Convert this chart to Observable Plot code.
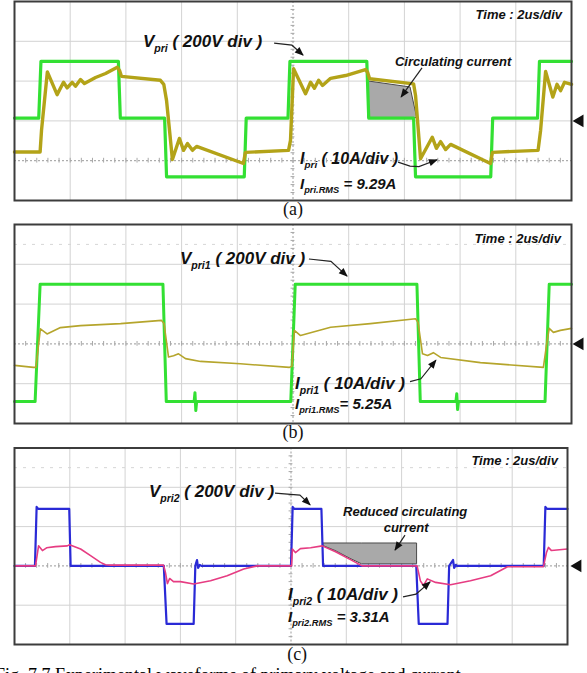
<!DOCTYPE html>
<html><head><meta charset="utf-8">
<script src="https://cdn.jsdelivr.net/npm/d3@7"></script>
<script src="https://cdn.jsdelivr.net/npm/@observablehq/plot@0.6"></script>
<style>
body{margin:0;background:#fff;width:587px;height:673px;overflow:hidden;position:relative;}
#root{position:absolute;left:0;top:0;width:587px;height:673px;}
#root svg{position:absolute;left:0;}
#caption{position:absolute;left:-5px;top:665px;font-family:"Liberation Serif","Times New Roman",serif;font-size:18px;line-height:20px;white-space:nowrap;color:#000;}
</style></head><body>
<div id="root"></div>
<div id="caption">Fig. 7.7 Experimental waveforms of primary voltage and current</div>
<script>
// ---------- Panel (a): Vpri [V] and Ipri [A] vs time [us] ----------
const vaT = [0, 0.87, 0.95, 3.73, 3.80, 5.39, 5.46, 8.25, 8.32, 9.82, 9.89, 12.65, 12.72, 14.33, 14.40, 17.10, 17.17, 18.78, 18.85, 20];
const vaV = [0, 0, 285, 285, 0, 0, -295, -295, 0, 0, 285, 285, 0, 0, -295, -295, 0, 0, 285, 285];
const iaT = [0, 0.92, 0.97, 1.18, 1.53, 1.76, 1.89, 2.07, 2.19, 2.37, 2.51, 2.91, 3.27, 3.69, 3.77, 3.84, 5.24, 5.36, 5.46, 5.67, 5.92, 6.07, 6.21, 6.39, 6.54, 8.22, 8.29, 9.84, 9.91, 10.02, 10.45, 10.63, 10.77, 10.92, 11.06, 11.35, 11.89, 12.6, 12.68, 12.75, 14.33, 14.40, 14.58, 15.0, 15.15, 15.3, 15.48, 15.66, 17.09, 17.16, 18.8, 18.89, 19.07, 19.33, 19.48, 19.61, 19.75, 20];
const iaI = [-8.5, -8.5, -3.1, 11.6, 5.9, 9.0, 7.6, 9.0, 8.0, 9.7, 8.7, 10.2, 11.2, 12.8, 12.0, 10.5, 9.5, 8.5, 4.4, -10.4, -5.1, -8.1, -6.4, -8.1, -7.1, -11.4, -8.6, -8.1, -5.6, 12.4, 6.1, 9.0, 7.5, 9.5, 8.2, 10.0, 10.7, 12.2, 11.5, 9.9, 8.6, 5.7, -10.2, -4.8, -7.6, -5.9, -7.9, -6.6, -11.4, -8.6, -8.1, -3.1, 11.7, 5.3, 8.5, 6.9, 9.0, 8.5];
const circAT  = [12.72, 14.22, 14.46];
const circALo = [0, 0, 0];
const circAHi = [9.2, 7.7, 0];

// ---------- Panel (b): Vpri1 [V] and Ipri1 [A] ----------
const vbT = [0, 0.74, 0.92, 5.33, 5.45, 6.45, 6.48, 6.51, 6.54, 9.92, 10.08, 14.45, 14.57, 15.85, 15.88, 15.91, 15.94, 19.05, 19.2, 20];
const vbV = [-290, -290, 300, 300, -290, -290, -245, -335, -290, -290, 300, 300, -290, -290, -250, -330, -290, -290, 300, 300];
const ibT = [0, 0.68, 0.77, 0.93, 1.17, 1.65, 2.37, 3.81, 5.28, 5.37, 5.53, 5.71, 5.89, 6.14, 6.68, 8.11, 9.87, 9.96, 10.05, 10.27, 11.35, 12.78, 14.40, 14.49, 14.65, 14.83, 15.04, 15.3, 16.73, 18.99, 19.1, 19.2, 19.35, 19.6, 20];
const ibI = [-5.4, -5.9, -5.9, 3.8, 2.5, 4.1, 4.6, 5.1, 5.9, 5.1, -3.3, -3.0, -2.5, -3.7, -4.4, -5.0, -5.9, -5.6, 3.4, 2.1, 4.2, 5.1, 6.3, 5.4, -2.5, -2.9, -2.2, -3.4, -4.7, -5.9, -0.4, 3.9, 2.9, 3.4, 3.9];

// ---------- Panel (c): Vpri2 [V] and Ipri2 [A] ----------
const vcT = [0, 0.74, 0.80, 0.86, 1.98, 2.03, 5.40, 5.50, 6.48, 6.54, 6.60, 6.64, 6.70, 6.76, 10.0, 10.06, 10.12, 11.10, 11.16, 14.53, 14.62, 15.66, 15.72, 15.86, 15.90, 15.96, 16.0, 19.14, 19.20, 19.26, 20];
const vcV = [0, 0, 300, 290, 290, 0, 0, -295, -295, 0, 30, -10, 5, 0, 0, 300, 290, 290, 0, 0, -295, -295, 0, 30, -10, 5, 0, 0, 300, 290, 290];
const icT = [0, 0.76, 0.87, 1.01, 1.16, 1.48, 1.91, 1.99, 2.39, 2.75, 3.11, 3.29, 3.47, 5.39, 5.46, 5.53, 5.61, 5.75, 6.0, 6.48, 7.09, 7.69, 8.29, 8.78, 10.02, 10.05, 10.16, 10.34, 10.71, 11.13, 11.61, 12.15, 12.57, 14.56, 14.68, 14.79, 14.93, 15.23, 15.77, 16.49, 17.22, 17.83, 19.13, 19.24, 19.31, 19.42, 20];
const icI = [0, 0, 5.1, 3.9, 4.6, 4.9, 5.1, 5.4, 4.3, 2.6, 0.9, 0.3, 0.2, 0.2, -1.7, -4.5, -3.2, -4.0, -4.0, -4.6, -3.8, -2.5, -0.8, 0, 0, 4.3, 3.4, 4.4, 4.6, 5.1, 3.6, 1.6, 0, 0, -3.8, -5.0, -3.3, -4.2, -4.8, -3.8, -2.5, -0.2, -0.2, 3.4, 4.7, 3.9, 4.3];
const circCT  = [11.19, 11.61, 12.15, 12.57, 14.56];
const circCLo = [5.0, 3.8, 1.8, 0.4, 0.4];
const circCHi = [5.7, 5.7, 5.7, 5.7, 5.7];

// ---------- graticule (2 us/div, 10 x 5 divisions) ----------
const gridT = [2, 4, 6, 8, 12, 14, 16, 18];
const gridDiv = [1, 2, 3, 4];
const minorT = d3.range(0.4, 20, 0.4);
const minorD = d3.range(0.2, 5, 0.2);

const FONT = '"Liberation Sans", Arial, Helvetica, sans-serif';
const rows = (T, V) => T.map((t, i) => ({t, v: V[i]}));
const polyRows = (T, L, H) => T.map((t, i) => ({t, lo: L[i], hi: H[i]}));

function lin(sc) {
  if (sc && typeof sc.apply === "function") return v => sc.apply(v);
  const [d0, d1] = sc.domain, [r0, r1] = sc.range;
  return v => r0 + (v - d0) / (d1 - d0) * (r1 - r0);
}

function drawPanel(cfg, idx) {
  const off = cfg.off, ax = cfg.axisDiv;
  const marks = [
    Plot.ruleX(gridT, {stroke: "#d3d3d3", strokeWidth: 1}),
    Plot.ruleY(gridDiv.filter(d => d !== ax), {stroke: "#d3d3d3", strokeWidth: 1})
  ];
  if (cfg.dashRow) marks.push(Plot.ruleY([cfg.dashRow], {stroke: "#d6d6d6", strokeDasharray: "3,6"}));
  marks.push(
    Plot.ruleY([ax], {stroke: "#9a9a9a", strokeDasharray: "2,2"}),
    Plot.ruleX([10], {stroke: "#9a9a9a", strokeDasharray: "2,2"}),
    Plot.ruleX(minorT, {x: d => d, y1: () => ax - 0.06, y2: () => ax + 0.06, stroke: "#a8a8a8"}),
    Plot.ruleY(minorD, {y: d => d, x1: () => 9.93, x2: () => 10.07, stroke: "#a8a8a8"})
  );
  if (cfg.poly) marks.push(Plot.areaY(cfg.poly, {x: "t", y1: d => off + d.lo / 10, y2: d => off + d.hi / 10, fill: "#a9a9a9", stroke: "#4a4a4a", strokeWidth: 1}));
  marks.push(Plot.line(cfg.vRows, {x: "t", y: d => off + d.v / 200, stroke: cfg.vColor, strokeWidth: cfg.vW}));
  marks.push(Plot.line(cfg.iRows, {x: "t", y: d => off + d.v / 10, stroke: cfg.iColor, strokeWidth: cfg.iW}));
  marks.push(Plot.frame({stroke: "#3c3c3c", strokeWidth: 2}));
  marks.push(Plot.dot([{t: cfg.triX, d: 2}], {x: "t", y: "d", symbol: "triangle", rotate: -90, r: 4.7, fill: "#111", stroke: "none"}));

  const plot = Plot.plot({
    width: 587, height: cfg.height,
    marginTop: cfg.mt, marginBottom: cfg.mb, marginLeft: 14, marginRight: cfg.mr,
    x: {domain: [0, 20], axis: null},
    y: {domain: [0, 5], axis: null},
    style: {background: "transparent", overflow: "visible"},
    marks
  });
  plot.style.top = cfg.top + "px";
  document.getElementById("root").appendChild(plot);

  const X = lin(plot.scale("x")), Y = lin(plot.scale("y"));
  const svg = d3.select(plot);
  const mid = "ah" + idx;
  svg.append("defs").append("marker")
    .attr("id", mid).attr("viewBox", "0 0 10 10").attr("refX", 9).attr("refY", 5)
    .attr("markerWidth", 10).attr("markerHeight", 9).attr("markerUnits", "userSpaceOnUse")
    .attr("orient", "auto")
    .append("path").attr("d", "M0,1 L10,5 L0,9 Z").attr("fill", "#111");
  const g = svg.append("g");

  function label(a, size, anchor) {
    const t = g.append("text").attr("x", X(a.t)).attr("y", Y(a.d))
      .attr("font-family", FONT).attr("font-weight", "bold").attr("font-style", "italic")
      .attr("font-size", size).attr("fill", "#111").attr("text-anchor", anchor || "start");
    let low = false;
    a.parts.forEach(([s, sub]) => {
      const ts = t.append("tspan").text(s);
      if (sub) { ts.attr("font-size", size * 0.62).attr("dy", size * 0.28); low = true; }
      else { ts.attr("font-size", size); if (low) { ts.attr("dy", -size * 0.28); low = false; } }
    });
  }
  function arrow(pts) {
    g.append("path")
      .attr("d", d3.line()(pts.map(([t, d]) => [X(t), Y(d)])))
      .attr("fill", "none").attr("stroke", "#222").attr("stroke-width", 1.2)
      .attr("marker-end", `url(#${mid})`);
  }
  label({t: cfg.time[0], d: cfg.time[1], parts: [["Time : 2us/div"]]}, 13, "end");
  label(cfg.vLabel, 17);
  arrow(cfg.vArrow);
  label(cfg.iLabel, cfg.iSize || 17);
  arrow(cfg.iArrow);
  label(cfg.rms, 15);
  (cfg.extra || []).forEach(e => label(e, 13, e.anchor));
  if (cfg.extraArrow) arrow(cfg.extraArrow);
  g.append("text").attr("x", X(cfg.cap.t)).attr("y", Y(cfg.cap.d)).attr("text-anchor", "middle")
    .attr("font-family", '"Liberation Serif","Times New Roman",serif').attr("font-size", 18).attr("fill", "#111")
    .text(cfg.cap.text);
}

const panels = [
  { top: 0, height: 220, mt: 1, mb: 20, mr: 16, off: 2.07, axisDiv: 1, triX: 20.30,
    vRows: rows(vaT, vaV), iRows: rows(iaT, iaI), vColor: "#33e033", iColor: "#b3a318", vW: 3.2, iW: 3.4,
    poly: polyRows(circAT, circALo, circAHi),
    time: [19.68, 4.55],
    vLabel: {t: 4.63, d: 3.84, parts: [["V"], ["pri", 1], [" ( 200V div )"]]},
    vArrow: [[9.34, 3.94], [9.98, 3.89], [10.38, 3.64]],
    extra: [{t: 13.68, d: 3.37, parts: [["Circulating current"]]}],
    extraArrow: [[14.65, 3.32], [13.9, 2.59]],
    iLabel: {t: 10.27, d: 0.905, parts: [["I"], ["pri", 1], [" ( 10A/div )"]]}, iSize: 16,
    iArrow: [[13.79, 0.95], [14.22, 0.85], [14.54, 0.84], [15.19, 1.01]],
    rms: {t: 10.27, d: 0.276, parts: [["I"], ["pri.RMS", 1], [" = 9.29A"]]},
    cap: {t: 10.02, d: -0.38, text: "(a)"} },
  { top: 220, height: 220, mt: 4, mb: 17, mr: 16, off: 2, axisDiv: 2, triX: 20.30, dashRow: 4.5,
    vRows: rows(vbT, vbV), iRows: rows(ibT, ibI), vColor: "#33e033", iColor: "#b5a52c", vW: 3, iW: 1.6,
    time: [19.64, 4.52],
    vLabel: {t: 5.96, d: 3.99, parts: [["V"], ["pri1", 1], [" ( 200V div )"]]},
    vArrow: [[10.59, 4.12], [11.38, 4.06], [11.96, 3.69]],
    iLabel: {t: 10.09, d: 0.854, parts: [["I"], ["pri1", 1], [" ( 10A/div )"]]},
    iArrow: [[14.22, 1.04], [14.61, 1.11], [15.15, 1.58]],
    rms: {t: 10.09, d: 0.352, parts: [["I"], ["pri1.RMS", 1], ["= 5.25A"]]},
    cap: {t: 10.02, d: -0.38, text: "(b)"} },
  { top: 440, height: 233, mt: 7.5, mb: 29, mr: 20, off: 2, axisDiv: 2, triX: 20.37, dashRow: 4.5,
    vRows: rows(vcT, vcV), iRows: rows(icT, icI), vColor: "#2a2ad6", iColor: "#e63c82", vW: 2.2, iW: 1.6,
    poly: polyRows(circCT, circCLo, circCHi),
    time: [19.67, 4.55],
    vLabel: {t: 4.88, d: 3.74, parts: [["V"], ["pri2", 1], [" ( 200V div )"]]},
    vArrow: [[9.44, 3.84], [10.34, 3.79], [10.71, 3.54]],
    extra: [{t: 11.9, d: 3.26, parts: [["Reduced circulating"]]},
            {t: 14.18, d: 2.85, parts: [["current"]], anchor: "middle"}],
    extraArrow: [[14.14, 2.77], [13.78, 2.39]],
    iLabel: {t: 9.91, d: 1.12, parts: [["I"], ["pri2", 1], [" ( 10A/div )"]]},
    iArrow: [[14.07, 1.20], [14.54, 1.27], [15.05, 1.58]],
    rms: {t: 9.91, d: 0.56, parts: [["I"], ["pri2.RMS", 1], [" = 3.31A"]]},
    cap: {t: 10.24, d: -0.40, text: "(c)"} }
];
panels.forEach(drawPanel);
</script>
</body></html>
